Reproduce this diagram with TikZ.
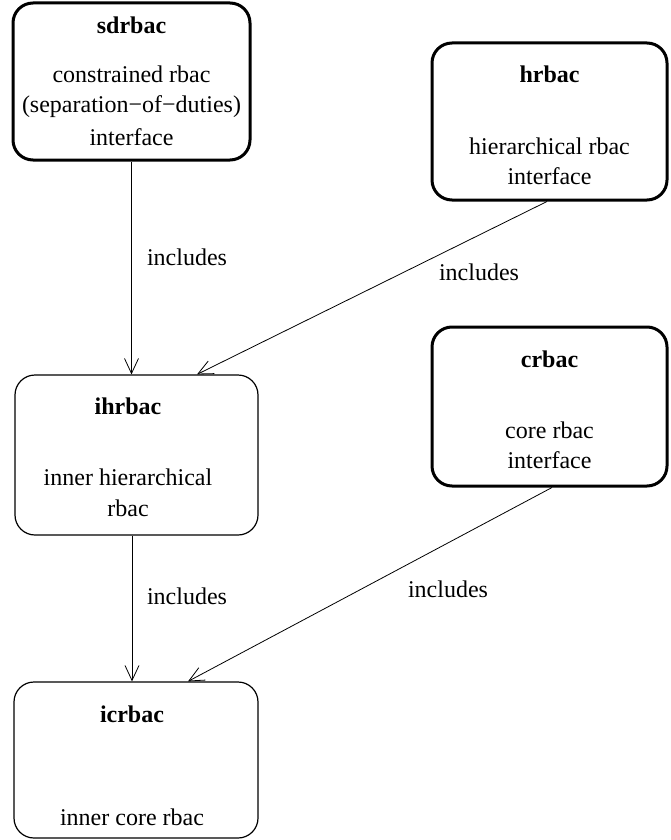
\documentclass[tikz,border=0pt]{standalone}
\usepackage{fontspec}
\setmainfont{Liberation Serif}
\usetikzlibrary{arrows.meta}
\begin{document}
\begin{tikzpicture}[x=1pt,y=-1pt,
  every node/.style={font=\fontsize{24}{30}\selectfont},
  ifacebox/.style={draw,line width=3pt,rounded corners=20pt,inner sep=0pt},
  innerbox/.style={draw,line width=1.2pt,rounded corners=20pt,inner sep=0pt},
  title/.style={anchor=base,font=\fontsize{24}{30}\selectfont\bfseries,inner sep=0pt},
  body/.style={anchor=base,inner sep=0pt},
  rel/.style={line width=0.8pt,-{Straight Barb[length=15pt,width=14pt,line width=0.8pt]}},
  rellabel/.style={anchor=base,inner sep=0pt}]
\useasboundingbox (0,0) rectangle (670,840);

% interface boxes (thick outline)
\node[ifacebox,minimum width=237pt,minimum height=157pt] (sdrbac) at (131.5,81.5) {};
\node[ifacebox,minimum width=235pt,minimum height=157pt] (hrbac) at (549.5,121.5) {};
\node[ifacebox,minimum width=235pt,minimum height=159pt] (crbac) at (549.5,406.5) {};
% inner boxes (thin outline)
\node[innerbox,minimum width=243pt,minimum height=160pt] (ihrbac) at (136.5,455) {};
\node[innerbox,minimum width=244pt,minimum height=156pt] (icrbac) at (136,760) {};

% box texts
\node[title] (sdrbacT) at (131.5,34) {sdrbac};
\node[body] (sdrbacA) at (131.5,83) {constrained rbac};
\node[body] (sdrbacB) at (131.5,113) {(separation−of−duties)};
\node[body] (sdrbacC) at (131.5,145) {interface};

\node[title] (hrbacT) at (549.5,83) {hrbac};
\node[body] (hrbacA) at (549.5,154) {hierarchical rbac};
\node[body] (hrbacB) at (549.5,184) {interface};

\node[title] (crbacT) at (549.5,367) {crbac};
\node[body] (crbacA) at (549.5,438) {core rbac};
\node[body] (crbacB) at (549.5,468) {interface};

\node[title] (ihrbacT) at (128,414) {ihrbac};
\node[body] (ihrbacA) at (128,485) {inner hierarchical};
\node[body] (ihrbacB) at (128,516) {rbac};

\node[title] (icrbacT) at (132,722) {icrbac};
\node[body] (icrbacA) at (132,825) {inner core rbac};

% inclusion relations
\draw[rel] (sdrbac.south) -- (sdrbac.south |- ihrbac.north);
\draw[rel] ([xshift=-2.5pt]hrbac.south) -- ([xshift=60.5pt]ihrbac.north);
\draw[rel] ([xshift=-4.5pt]ihrbac.south) -- ([xshift=-4pt]icrbac.north);
\draw[rel] ([xshift=2.5pt]crbac.south) -- ([xshift=52pt]icrbac.north);

\node[rellabel] (inc1) at (187,265) {includes};
\node[rellabel] (inc2) at (479,280) {includes};
\node[rellabel] (inc3) at (187,604) {includes};
\node[rellabel] (inc4) at (448,597) {includes};
\end{tikzpicture}
\end{document}
